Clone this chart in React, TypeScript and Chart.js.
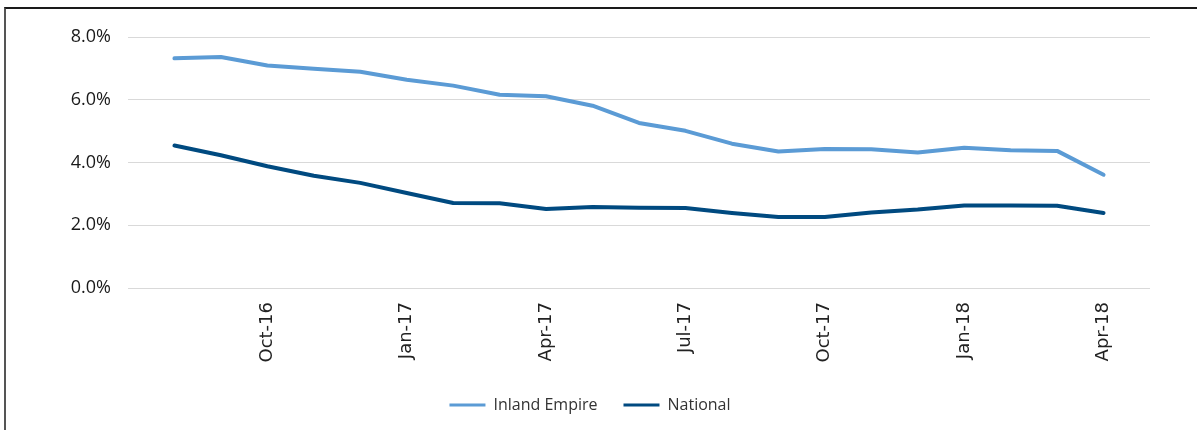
import { useEffect, useRef } from "react";
import { Chart, registerables } from "chart.js";

Chart.register(...registerables);

// Monthly series, Aug-16 through Apr-18 (unemployment rate, %)
const months = [
  "Aug-16", "Sep-16", "Oct-16", "Nov-16", "Dec-16", "Jan-17", "Feb-17",
  "Mar-17", "Apr-17", "May-17", "Jun-17", "Jul-17", "Aug-17", "Sep-17",
  "Oct-17", "Nov-17", "Dec-17", "Jan-18", "Feb-18", "Mar-18", "Apr-18",
];
const tickLabels = ["Oct-16", "Jan-17", "Apr-17", "Jul-17", "Oct-17", "Jan-18", "Apr-18"];
const inlandEmpire = [
  7.32, 7.36, 7.09, 6.99, 6.89, 6.64, 6.45, 6.16, 6.11, 5.81, 5.26,
  5.01, 4.6, 4.35, 4.43, 4.42, 4.32, 4.47, 4.39, 4.37, 3.61,
];
const national = [
  4.54, 4.23, 3.88, 3.58, 3.35, 3.03, 2.71, 2.7, 2.52, 2.58, 2.56,
  2.55, 2.39, 2.26, 2.26, 2.41, 2.5, 2.63, 2.63, 2.62, 2.39,
];
const seriesNames = ["Inland Empire", "National"];
const seriesColors = ["#5b9bd5", "#004a80"];

export default function App() {
  const canvasRef = useRef<HTMLCanvasElement | null>(null);

  useEffect(() => {
    const canvas = canvasRef.current;
    if (!canvas) return;
    const toPoints = (vals: number[]) => vals.map((y, i) => ({ x: i + 1, y }));
    const chart = new Chart(canvas, {
      type: "line",
      data: {
        datasets: [inlandEmpire, national].map((vals, i) => ({
          label: seriesNames[i],
          data: toPoints(vals),
          borderColor: seriesColors[i],
          backgroundColor: seriesColors[i],
          borderWidth: 4,
          borderCapStyle: "round" as const,
          borderJoinStyle: "round" as const,
          pointRadius: 0,
          tension: 0,
        })),
      },
      options: {
        animation: false,
        responsive: false,
        maintainAspectRatio: false,
        layout: { padding: { left: 30, right: 47, top: 37, bottom: 7 } },
        scales: {
          x: {
            type: "linear",
            min: 0,
            max: months.length + 1,
            grid: { display: false, drawTicks: false },
            border: { display: false },
            afterFit: (scale: any) => {
              scale.height = 83;
            },
            afterBuildTicks: (scale: any) => {
              scale.ticks = months.map((_, i) => ({ value: i + 1 }));
            },
            ticks: {
              autoSkip: false,
              maxRotation: 90,
              minRotation: 90,
              padding: 14,
              color: "#222222",
              font: { family: "DejaVu Sans", size: 18 },
              callback: (v: any) => {
                const m = months[Number(v) - 1];
                return m && tickLabels.includes(m) ? m : "";
              },
            },
          },
          y: {
            min: 0,
            max: 8,
            grid: { color: "#d9d9d9", lineWidth: 1, drawTicks: false },
            border: { display: false },
            afterFit: (scale: any) => {
              scale.width = 98;
            },
            ticks: {
              stepSize: 2,
              padding: 17,
              color: "#1a1a1a",
              font: { family: "Open Sans", size: 18 },
              callback: (v: any) => Number(v).toFixed(1) + "%",
            },
          },
        },
        plugins: {
          legend: {
            position: "bottom",
            labels: {
              boxWidth: 36,
              boxHeight: 3,
              padding: 26,
              color: "#333333",
              font: { family: "Open Sans", size: 16 },
              generateLabels: (c: any) =>
                Chart.defaults.plugins.legend.labels
                  .generateLabels(c)
                  .map((it: any) => ({ ...it, lineWidth: 0 })),
            },
          },
          tooltip: { enabled: false },
        },
      },
    });
    return () => chart.destroy();
  }, []);

  return (
    <div
      style={{
        position: "fixed",
        left: 0,
        top: 0,
        width: 1197,
        height: 430,
        background: "#ffffff",
        overflow: "hidden",
      }}
    >
      <div
        style={{
          position: "absolute",
          left: 4,
          top: 7,
          width: 1300,
          height: 500,
          borderTop: "2px solid #1a1a1a",
          borderLeft: "2px solid #555555",
        }}
      />
      <canvas
        ref={canvasRef}
        width={1197}
        height={430}
        style={{ position: "absolute", left: 0, top: 0, display: "block" }}
      />
    </div>
  );
}
